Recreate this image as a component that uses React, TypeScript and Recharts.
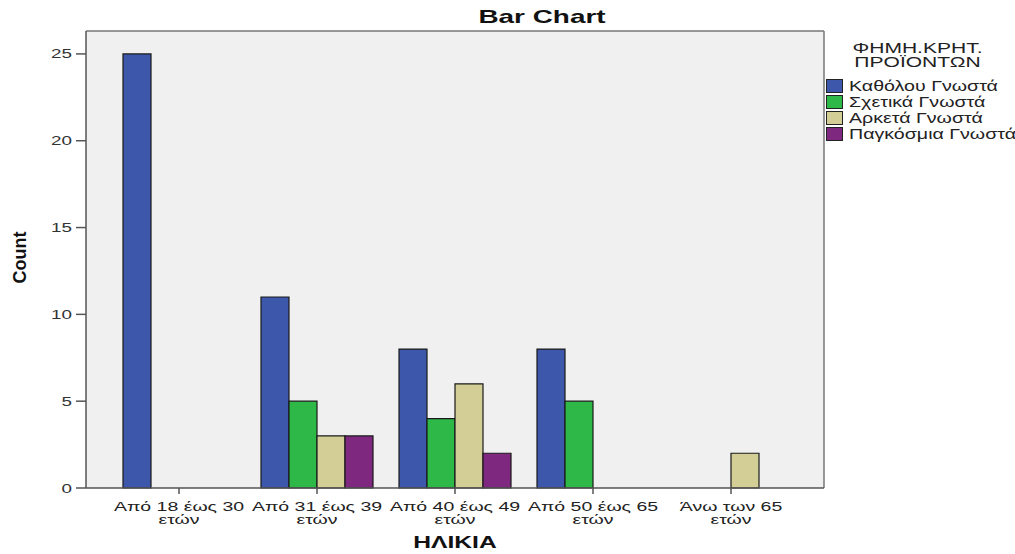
import React from 'react';
import { BarChart, Bar, XAxis, YAxis, CartesianGrid, Legend, Customized } from 'recharts';

const ageGroups = ['Από 18 έως 30 ετών', 'Από 31 έως 39 ετών', 'Από 40 έως 49 ετών', 'Από 50 έως 65 ετών', 'Άνω των 65 ετών'];
const seriesNames = ['Καθόλου Γνωστά', 'Σχετικά Γνωστά', 'Αρκετά Γνωστά', 'Παγκόσμια Γνωστά'];
const kathólouGnosta = [25, 11, 8, 8, null];
const sxetikaGnosta = [null, 5, 4, 5, null];
const arketaGnosta = [null, 3, 6, null, 2];
const pagkosmiaGnosta = [null, 3, 2, null, null];
const yTicks = [0, 5, 10, 15, 20, 25];
const colors = ['#3D58AB', '#2EB848', '#D2CE96', '#7F287F'];
const keys = ['s0', 's1', 's2', 's3'];
const seriesValues = [kathólouGnosta, sxetikaGnosta, arketaGnosta, pagkosmiaGnosta];

const data = ageGroups.map((g, i) => {
  const row: any = { name: g };
  keys.forEach((k, j) => { row[k] = seriesValues[j][i]; });
  return row;
});

const FONT = "'Liberation Sans', Arial, sans-serif";
const SX = 1.45;

const SText = ({ x, y, anchor = 'middle', size = 13, weight = 'normal', fill = '#222', sx = SX, children }: any) => (
  <g transform={`translate(${x},${y}) scale(${sx},1)`}>
    <text x={0} y={0} textAnchor={anchor} fontSize={size} fontWeight={weight} fill={fill} fontFamily={FONT}>{children}</text>
  </g>
);

const XTick = (props: any) => {
  const { x, y, payload } = props;
  const v: string = payload.value;
  const idx = v.lastIndexOf(' ');
  const l1 = v.slice(0, idx);
  const l2 = v.slice(idx + 1);
  return (
    <g>
      <SText x={x} y={y + 15} size={13} sx={1.5}>{l1}</SText>
      <SText x={x} y={y + 28} size={13} sx={1.5}>{l2}</SText>
    </g>
  );
};

const YTick = (props: any) => {
  const { x, y, payload } = props;
  return <SText x={x} y={y + 4.5} anchor="end" size={13} fill="#333">{payload.value}</SText>;
};

const LSX = 1.4;
const LegendContent = () => (
  <div style={{ width: 195, fontFamily: FONT, fontSize: 14, color: '#222' }}>
    <div style={{ textAlign: 'center', transform: `scaleX(1.45)`, lineHeight: '14px', height: 14, fontSize: 14.5 }}>ΦΗΜΗ.ΚΡΗΤ.</div>
    <div style={{ textAlign: 'center', transform: `scaleX(1.45)`, lineHeight: '14px', height: 14, fontSize: 14.5, marginBottom: 9 }}>ΠΡΟΪΟΝΤΩΝ</div>
    {seriesNames.map((n, i) => (
      <div key={n} style={{ height: 16, position: 'relative' }}>
        <div style={{ position: 'absolute', left: 6, top: 1, width: 15, height: 12, background: colors[i], border: '1px solid #222' }} />
        <div style={{ position: 'absolute', left: 29, top: 0, lineHeight: '16px', whiteSpace: 'nowrap', transform: `scaleX(${LSX})`, transformOrigin: 'left center' }}>{n}</div>
      </div>
    ))}
  </div>
);

const Title = () => <SText x={542} y={23} size={18} weight="bold" fill="#111" sx={1.55}>Bar Chart</SText>;

export default function App() {
  return (
    <div style={{ position: 'absolute', left: 0, top: 0, width: 1015, height: 554, background: '#fff' }}>
      <BarChart width={1015} height={554} data={data} margin={{ top: 31, right: 191, bottom: 0, left: 0 }} barGap={0} barSize={28}>
        <CartesianGrid
          fill="#F0F0F0"
          stroke="#777"
          strokeWidth={1.5}
          horizontalCoordinatesGenerator={({ offset }: any) => [offset.top]}
          verticalCoordinatesGenerator={({ offset }: any) => [offset.left + offset.width]}
        />
        <XAxis
          dataKey="name"
          height={66}
          padding={{ left: 24, right: 24 }}
          tickSize={6}
          tickMargin={2}
          axisLine={{ stroke: '#555', strokeWidth: 1.5 }}
          tickLine={{ stroke: '#555', strokeWidth: 1.5 }}
          tick={<XTick />}
          interval={0}
          label={(p: any) => {
            const vb = p.viewBox;
            return <SText x={vb.x + vb.width / 2} y={548} size={17} weight="bold" fill="#111">ΗΛΙΚΙΑ</SText>;
          }}
        />
        <YAxis
          width={86}
          domain={[0, 26.32]}
          ticks={yTicks}
          tickSize={10}
          tickMargin={4}
          axisLine={{ stroke: '#555', strokeWidth: 1.5 }}
          tickLine={{ stroke: '#555', strokeWidth: 1.5 }}
          tick={<YTick />}
          label={(p: any) => {
            const vb = p.viewBox;
            const cy = vb.y + vb.height / 2 - 2;
            return (
              <text x={26} y={cy} transform={`rotate(-90, 26, ${cy})`} textAnchor="middle" fontSize={18} fontWeight="bold" fill="#111" fontFamily={FONT}>Count</text>
            );
          }}
        />
        <Legend layout="vertical" align="center" verticalAlign="middle" wrapperStyle={{ left: 820, top: 41, width: 195 }} content={<LegendContent />} />
        {keys.map((k, i) => (
          <Bar key={k} dataKey={k} name={seriesNames[i]} fill={colors[i]} stroke="#1a1a1a" strokeWidth={1.2} isAnimationActive={false} />
        ))}
        <Customized component={Title} />
      </BarChart>
    </div>
  );
}
